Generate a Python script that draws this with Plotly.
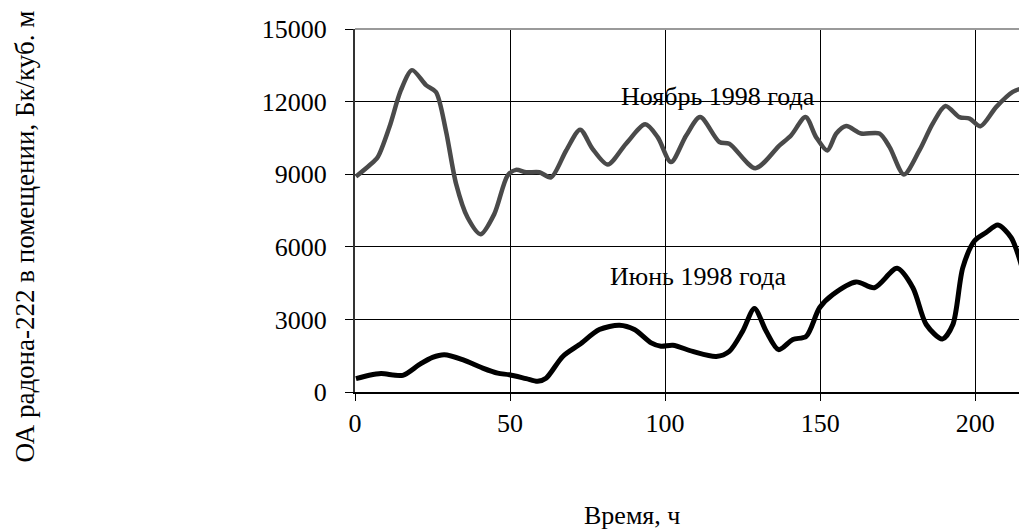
import plotly.graph_objects as go

# ---- data ----
nov_hours = [0.3, 4.6, 7.3, 11.1, 14.8, 18.4, 22.9, 26.1, 29.3, 32.6,
             36.3, 40.5, 44.9, 49.2, 51.9, 55.2, 59.5, 63.2, 68.1, 72.6,
             76.6, 81.5, 87.4, 93.6, 97.6, 101.9, 106.8, 111.3, 117.5, 120.7,
             129.1, 136.9, 140.6, 145.3, 148.7, 152.3, 155.2, 158.4, 163.2, 169.1,
             172.4, 177.0, 182.0, 186.3, 190.4, 194.9, 198.2, 201.7, 206.8, 212.1,
             215.4, 218.0]
nov_values = [8900, 9360, 9700, 10950, 12470, 13300, 12680, 12400, 10810, 8600,
              7210, 6520, 7350, 8940, 9180, 9080, 9080, 8870, 9980, 10840,
              10050, 9400, 10260, 11060, 10530, 9500, 10600, 11360, 10330, 10260,
              9250, 10190, 10600, 11360, 10530, 9980, 10680, 10990, 10680, 10680,
              10120, 8990, 9980, 11090, 11820, 11360, 11300, 10980, 11780, 12400,
              12540, 12500]

jun_hours = [0.3, 4.6, 8.4, 15.4, 20.7, 25.0, 28.8, 34.7, 41.2, 46.0,
             49.8, 55.2, 58.9, 61.6, 67.0, 72.4, 78.8, 85.3, 90.1, 95.5,
             98.7, 102.5, 108.9, 116.5, 120.7, 125.0, 128.8, 132.6, 136.6, 141.2,
             145.5, 149.8, 154.1, 161.6, 167.5, 174.8, 179.9, 184.2, 189.4, 192.8,
             196.0, 199.8, 203.5, 207.3, 211.6, 215.9]
jun_values = [550, 690, 760, 690, 1130, 1430, 1540, 1340, 990, 780,
              710, 550, 440, 570, 1470, 1960, 2580, 2760, 2580, 2030,
              1890, 1930, 1680, 1470, 1680, 2510, 3450, 2510, 1750, 2170,
              2300, 3480, 4030, 4550, 4310, 5110, 4310, 2790, 2190, 2790,
              5140, 6250, 6590, 6900, 6380, 4790]

x_ticks = [0, 50, 100, 150, 200]
y_ticks = [0, 3000, 6000, 9000, 12000, 15000]

nov_label = "Ноябрь 1998 года"
jun_label = "Июнь 1998 года"
x_title = "Время, ч"
y_title = "ОА радона-222 в помещении, Бк/куб. м"

FONT = "Liberation Serif, Times New Roman, serif"

# page has an 8px body margin: figure is drawn starting at (8, 8)
OFF = 8
W, H = 1027 - OFF, 530 - OFF
L, T, B = 355 - OFF, 29 - OFF, 530 - 392
PW, PH = W - L, H - T - B

fig = go.Figure()
fig.add_trace(go.Scatter(x=nov_hours, y=nov_values, mode="lines",
                         line=dict(color="#4a4a4a", width=4.5, shape="spline", smoothing=0.8),
                         showlegend=False, hoverinfo="skip"))
fig.add_trace(go.Scatter(x=jun_hours, y=jun_values, mode="lines",
                         line=dict(color="#000000", width=5, shape="spline", smoothing=0.8),
                         showlegend=False, hoverinfo="skip"))

fig.update_layout(
    width=W, height=H,
    margin=dict(l=L, r=0, t=T, b=B, pad=0),
    paper_bgcolor="white", plot_bgcolor="white",
    font=dict(family=FONT, size=26, color="black"),
    showlegend=False,
)
fig.update_xaxes(range=[0, 216.7], tickvals=x_ticks, ticktext=[str(v) for v in x_ticks],
                 showgrid=True, gridcolor="black", gridwidth=1,
                 showline=True, linecolor="black", linewidth=1.5,
                 ticks="outside", ticklen=7, tickcolor="black", tickwidth=1,
                 ticklabelstandoff=0, zeroline=False,
                 tickfont=dict(family=FONT, size=26, color="black"))
fig.update_yaxes(range=[0, 15000], tickvals=y_ticks, ticktext=[str(v) for v in y_ticks],
                 showgrid=True, gridcolor="black", gridwidth=1,
                 showline=True, linecolor="#333333", linewidth=2,
                 ticks="outside", ticklen=8, tickcolor="black", tickwidth=1,
                 ticklabelstandoff=13, zeroline=False,
                 tickfont=dict(family=FONT, size=26, color="black"))

# top frame line (gray)
fig.add_shape(type="line", xref="paper", yref="paper", x0=0, x1=1, y0=1, y1=1,
              line=dict(color="#9a9a9a", width=2))

fig.add_annotation(x=116.9, y=12230, xref="x", yref="y", text=nov_label, showarrow=False,
                   xanchor="center", yanchor="middle", font=dict(family=FONT, size=26, color="black"))
fig.add_annotation(x=110.6, y=4790, xref="x", yref="y", text=jun_label, showarrow=False,
                   xanchor="center", yanchor="middle", font=dict(family=FONT, size=26, color="black"))

# axis titles (positions given in page pixels, converted to paper coords)
def px_to_paper(px, py):
    return (px - OFF - L) / PW, 1 - (py - OFF - T) / PH

xt = px_to_paper(632, 516)
fig.add_annotation(x=xt[0], y=xt[1], xref="paper", yref="paper",
                   text=x_title, showarrow=False, xanchor="center", yanchor="middle",
                   font=dict(family=FONT, size=26, color="black"))
yt = px_to_paper(25, 236.5)
fig.add_annotation(x=yt[0], y=yt[1], xref="paper", yref="paper",
                   text=y_title, showarrow=False, textangle=-90, xanchor="center", yanchor="middle",
                   font=dict(family=FONT, size=27, color="black"))

fig.write_html("out.html")
